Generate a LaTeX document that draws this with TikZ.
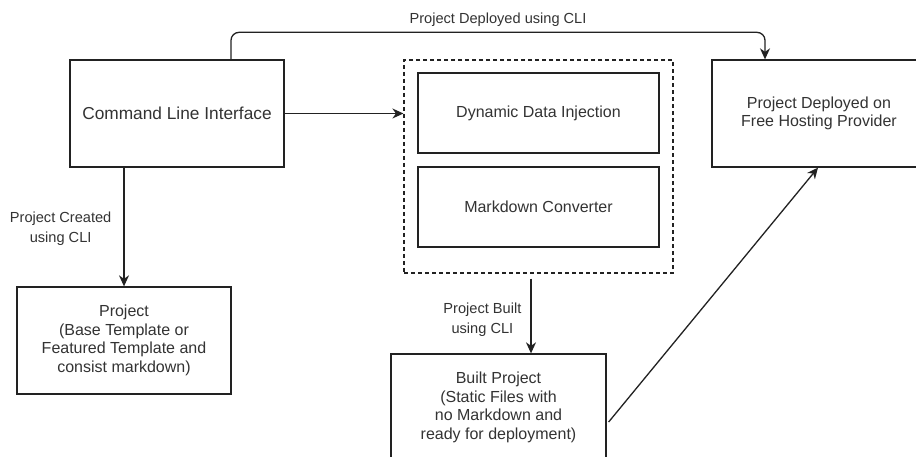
\documentclass[tikz,border=0pt]{standalone}
\usepackage{fontspec}
\setmainfont{Liberation Sans}
\usetikzlibrary{arrows.meta,positioning}
\definecolor{ink}{HTML}{222222}
\definecolor{txt}{HTML}{333333}
\tikzset{
  box/.style={draw=ink, line width=1.3pt, fill=white, align=center, text=txt,
              inner sep=0pt, font=\fontsize{16}{18.7}\selectfont},
  groupbox/.style={draw=ink, line width=1.15pt, dash pattern=on 4pt off 3pt,
              inner sep=0pt},
  flow/.style={draw=ink, line width=1.3pt,
              -{Stealth[length=11pt,width=10pt,inset=3.5pt]}},
  lbl/.style={text=txt, align=center, inner sep=0pt,
              font=\fontsize{14.6}{19.5}\selectfont},
}
\begin{document}
\begin{tikzpicture}[x=1pt,y=-1pt]
  \clip (0,0) rectangle (916,457);
  \fill[white] (0,0) rectangle (916,457);

  % main boxes
  \node[box, minimum width=214, minimum height=107,
        font=\fontsize{17.3}{20}\selectfont] (cli) at (177,113.5) {Command Line Interface};
  \node[box, minimum width=214, minimum height=107] (deploy) at (819,113.5)
        {Project Deployed on\\Free Hosting Provider};
  \node[box, minimum width=214, minimum height=107] (project) at (124,340.5)
        {Project\\(Base Template or\\Featured Template and\\consist markdown)};
  \node[box, minimum width=215, minimum height=107] (built) at (498.5,407.5)
        {Built Project\\(Static Files with\\no Markdown and\\ready for deployment)};

  % build pipeline group
  \node[groupbox, minimum width=269, minimum height=213] (group) at (538.5,166.5) {};
  \node[box, minimum width=241, minimum height=80] (inject) at (538.5,113) {Dynamic Data Injection};
  \node[box, minimum width=241, minimum height=80] (convert) at (538.5,207) {Markdown Converter};

  % connectors
  \draw[flow] (cli.east) -- (cli.east -| group.west);
  \draw[flow] (cli.south -| 124,0) -- (project.north)
        node[lbl, midway, left=12pt, yshift=-1.5pt] {Project Created\\using CLI};
  \draw[flow] ([yshift=-5pt]group.south -| 531,0) -- (built.north -| 531,0)
        node[lbl, pos=0.55, left=9pt] {Project Built\\using CLI};
  \draw[flow, rounded corners=8pt] ([xshift=54pt]cli.north) -- ++(0,-27)
        -| node[lbl, pos=0.25, above=5pt] {Project Deployed using CLI}
        ([xshift=-54pt]deploy.north);
  \draw[flow] ([xshift=2pt,yshift=-14.5pt]built.east) -- ([xshift=-1pt]deploy.south);
\end{tikzpicture}
\end{document}
